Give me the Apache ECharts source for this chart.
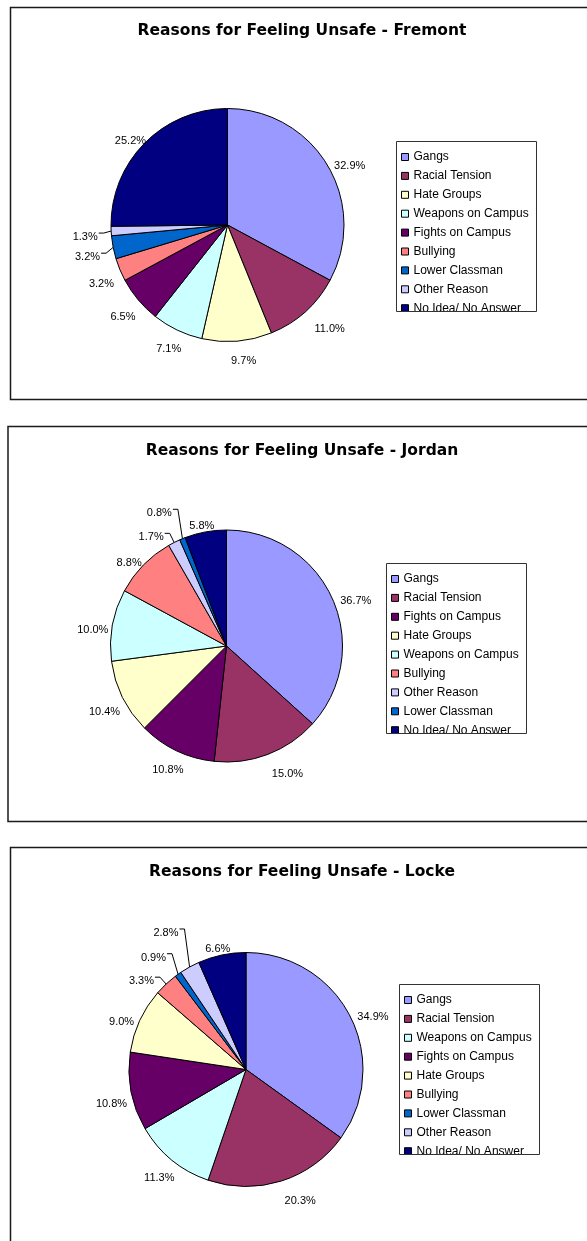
<!DOCTYPE html>
<html>
<head>
<meta charset="utf-8">
<script src="https://cdn.jsdelivr.net/npm/echarts@6/dist/echarts.min.js"></script>
<style>
  html, body { margin: 0; padding: 0; background: #fff; }
  #chart { width: 587px; height: 1241px; }
</style>
</head>
<body>
<div id="chart"></div>
<script>
// Survey answers: reasons students gave for feeling unsafe, per school (percent)
const fremontCategories = ['Gangs', 'Racial Tension', 'Hate Groups', 'Weapons on Campus', 'Fights on Campus', 'Bullying', 'Lower Classman', 'Other Reason', 'No Idea/ No Answer'];
const fremontValues = [32.9, 11.0, 9.7, 7.1, 6.5, 3.2, 3.2, 1.3, 25.2];

const jordanCategories = ['Gangs', 'Racial Tension', 'Fights on Campus', 'Hate Groups', 'Weapons on Campus', 'Bullying', 'Other Reason', 'Lower Classman', 'No Idea/ No Answer'];
const jordanValues = [36.7, 15.0, 10.8, 10.4, 10.0, 8.8, 1.7, 0.8, 5.8];

const lockeCategories = ['Gangs', 'Racial Tension', 'Weapons on Campus', 'Fights on Campus', 'Hate Groups', 'Bullying', 'Lower Classman', 'Other Reason', 'No Idea/ No Answer'];
const lockeValues = [34.9, 20.3, 11.3, 10.8, 9.0, 3.3, 0.9, 2.8, 6.6];

// One fill per reason, shared by all three schools
const categoryColors = {
  'Gangs': '#9999FF',
  'Racial Tension': '#993366',
  'Hate Groups': '#FFFFCC',
  'Weapons on Campus': '#CCFFFF',
  'Fights on Campus': '#660066',
  'Bullying': '#FF8080',
  'Lower Classman': '#0066CC',
  'Other Reason': '#CCCCFF',
  'No Idea/ No Answer': '#000080'
};

// Panel layout; "leaders" are small slices whose labels are pulled aside with a leader line
const panels = [
  {
    title: 'Reasons for Feeling Unsafe - Fremont', names: fremontCategories, values: fremontValues,
    center: [227.5, 225], radius: 116.5, titleY: 31,
    frame: { x: 10, y: 7, h: 392 }, legendBox: { x: 396, y: 141 },
    leaders: { 'Other Reason': [-6, 5], 'Lower Classman': [-6, 6] }
  },
  {
    title: 'Reasons for Feeling Unsafe - Jordan', names: jordanCategories, values: jordanValues,
    center: [226.5, 646], radius: 116, titleY: 451,
    frame: { x: 7.5, y: 426, h: 395 }, legendBox: { x: 386, y: 563 },
    leaders: { 'Lower Classman': [-15.5, -18], 'Other Reason': [-14, 2] }
  },
  {
    title: 'Reasons for Feeling Unsafe - Locke', names: lockeCategories, values: lockeValues,
    center: [246, 1069.5], radius: 117, titleY: 872,
    frame: { x: 10, y: 847, h: 420 }, legendBox: { x: 399, y: 984 },
    leaders: { 'Bullying': [-11, 3], 'Lower Classman': [-13, -10], 'Other Reason': [-14, -27] }
  }
];

const LEGEND_W = 140, LEGEND_H = 170;

// Places each percentage just outside its slice, along the slice's mid angle
function makeLabelLayout(p) {
  const total = p.values.reduce((a, b) => a + b, 0);
  const mids = [];
  let acc = 0;
  p.values.forEach(v => { mids.push((acc + v / 2) / total * Math.PI * 2); acc += v; });
  const [cx, cy] = p.center;
  const r = p.radius;
  return function (params) {
    const i = params.dataIndex;
    const ux = Math.sin(mids[i]);
    const uy = -Math.cos(mids[i]);
    let x = cx + ux * (r + 20) + (ux > 0 ? 5 : 0);
    let y = cy + uy * (uy < 0 ? r + 8 : r + 20);
    const out = { align: 'center', verticalAlign: 'middle' };
    const shift = p.leaders[p.names[i]];
    if (shift) {
      x += shift[0];
      y += shift[1];
      const w = params.labelRect ? params.labelRect.width : 24;
      const side = ux < 0 ? x + w / 2 + 1 : x - w / 2 - 1;
      const lineY = y - 4;
      out.labelLinePoints = [
        [cx + ux * r, cy + uy * r],
        [side + (ux < 0 ? 5 : -5), lineY],
        [side, lineY]
      ];
    } else {
      // labels sit a little lower the more sideways they point
      y += uy > 0 ? 11 * (1 - uy) : 5 * (1 + uy) + 2;
      // lower-right labels keep clear of the rim
      if (ux > 0.2 && uy > 0) x += 8 * uy;
    }
    out.x = x;
    out.y = y;
    return out;
  };
}

const graphics = [];
panels.forEach(p => {
  // outer chart frame
  graphics.push({
    type: 'rect', z: 100,
    shape: { x: p.frame.x + 0.5, y: p.frame.y + 0.5, width: 620, height: p.frame.h },
    style: { fill: 'none', stroke: '#1a1a1a', lineWidth: 1.5 }
  });
  // title
  graphics.push({
    type: 'text', z: 100, x: 302, y: p.titleY,
    style: {
      text: p.title, align: 'center', verticalAlign: 'middle',
      font: 'bold 15.5px "DejaVu Sans"', fill: '#000'
    }
  });
  // legend frame; the last entry runs past its bottom edge and is cut off there
  const lb = p.legendBox;
  graphics.push({
    type: 'rect', z: 100,
    shape: { x: lb.x, y: lb.y + LEGEND_H + 1, width: LEGEND_W + 2, height: 10 },
    style: { fill: '#fff', stroke: 'none' }
  });
  graphics.push({
    type: 'rect', z: 101,
    shape: { x: lb.x + 0.5, y: lb.y + 0.5, width: LEGEND_W, height: LEGEND_H },
    style: { fill: 'none', stroke: '#333', lineWidth: 1 }
  });
});

const option = {
  animation: false,
  backgroundColor: '#fff',
  graphic: { elements: graphics },
  legend: panels.map(p => ({
    orient: 'vertical',
    left: p.legendBox.x + 5,
    top: p.legendBox.y + 7,
    padding: 0,
    itemGap: 0.9,
    itemWidth: 7,
    itemHeight: 7,
    icon: 'rect',
    selectedMode: false,
    itemStyle: { borderColor: '#000', borderWidth: 1 },
    textStyle: {
      fontSize: 12, fontFamily: '"Liberation Sans", Arial, sans-serif', color: '#000',
      lineHeight: 12, padding: [6, 0, 0, 0]
    },
    data: p.names
  })),
  series: panels.map(p => ({
    type: 'pie',
    center: p.center,
    radius: p.radius,
    startAngle: 90,
    clockwise: true,
    avoidLabelOverlap: false,
    emphasis: { disabled: true },
    itemStyle: { borderColor: '#000', borderWidth: 1 },
    label: {
      show: true, position: 'outside',
      formatter: params => params.value.toFixed(1) + '%',
      color: '#000', fontSize: 11, fontFamily: '"Liberation Sans", Arial, sans-serif'
    },
    labelLine: { show: false, length: 5, length2: 5, lineStyle: { color: '#000', width: 1 } },
    labelLayout: makeLabelLayout(p),
    data: p.names.map((n, i) => {
      const d = { name: n, value: p.values[i], itemStyle: { color: categoryColors[n] } };
      if (p.leaders[n]) d.labelLine = { show: true };
      return d;
    })
  }))
};

const chart = echarts.init(document.getElementById('chart'), null, { renderer: 'canvas' });
chart.setOption(option);
</script>
</body>
</html>
